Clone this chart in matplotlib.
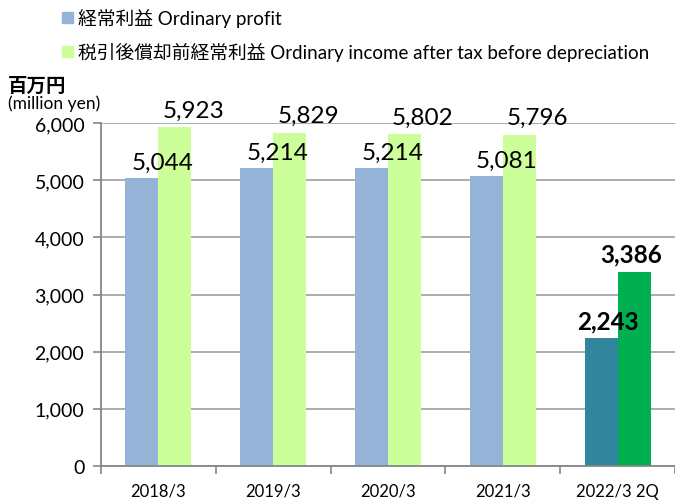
import matplotlib.pyplot as plt
import matplotlib.patches as mpatches
import numpy as np

plt.rcParams['font.family'] = ['Lato', 'Noto Sans CJK JP', 'DejaVu Sans']

categories = ['2018/3', '2019/3', '2020/3', '2021/3', '2022/3 2Q']
ordinary_profit = [5044, 5214, 5214, 5081, 2243]
income_before_dep = [5923, 5829, 5802, 5796, 3386]
legend_labels = ['経常利益 Ordinary profit',
                 '税引後償却前経常利益 Ordinary income after tax before depreciation']

blue_cols = ['#95b3d7'] * 4 + ['#31859c']
green_cols = ['#ccff99'] * 4 + ['#00b050']

fig = plt.figure(figsize=(6.75, 5.02), dpi=100)
ax = fig.add_axes([0.1496, 0.0697, 0.8504, 0.6833])

x = np.arange(len(categories))
w = 0.288
ax.bar(x - w / 2, ordinary_profit, w, color=blue_cols, zorder=3)
ax.bar(x + w / 2, income_before_dep, w, color=green_cols, zorder=3)

# value labels (Excel puts them slightly to the right for the old years)
for i in range(len(categories)):
    last = i == len(categories) - 1
    fw = 'bold' if last else 'normal'
    dx = 0.06 if last else 0.18
    ax.text(x[i] - w / 2 + dx, ordinary_profit[i] + 90, f'{ordinary_profit[i]:,}',
            ha='center', va='bottom', fontsize=17.5, fontweight=fw, zorder=4)
    dx2 = -0.03 if last else 0.16
    ax.text(x[i] + w / 2 + dx2, income_before_dep[i] + 120, f'{income_before_dep[i]:,}',
            ha='center', va='bottom', fontsize=17.5, fontweight=fw, zorder=4)

ax.set_xlim(-0.5, 4.5)
ax.set_ylim(0, 6000)
ax.set_yticks(np.arange(0, 6001, 1000))
ax.set_yticklabels([f'{v:,}' for v in range(0, 6001, 1000)])
ax.set_xticks(x)
ax.set_xticklabels(categories)
ax.set_xticks(np.arange(-0.5, 5, 1), minor=True)
ax.tick_params(axis='x', which='major', length=0, labelsize=12, pad=12)
ax.tick_params(axis='x', which='minor', length=6, color='#868686', width=1.2)
ax.tick_params(axis='y', length=6, color='#868686', width=1.2, labelsize=14, pad=6)

ax.yaxis.grid(True, color='#a6a6a6', linewidth=1.3, zorder=0)
for s in ['top', 'right']:
    ax.spines[s].set_visible(False)
for s in ['left', 'bottom']:
    ax.spines[s].set_color('#868686')
    ax.spines[s].set_linewidth(1.3)
ax.spines['bottom'].set_zorder(5)

# legend at top
leg_y = [0.963, 0.895]
leg_c = ['#95b3d7', '#ccff99']
for yy, c, lab in zip(leg_y, leg_c, legend_labels):
    fig.patches.append(mpatches.Rectangle((0.092, yy - 0.011), 0.016, 0.022,
                                          transform=fig.transFigure, color=c))
    fig.text(0.115, yy, lab, fontsize=13.5, va='center', ha='left')

fig.text(0.012, 0.83, '百万円', fontsize=14, fontweight='bold', va='center')
fig.text(0.012, 0.794, '(million yen)', fontsize=12.5, va='center')

fig.savefig('out.png', dpi=100)
